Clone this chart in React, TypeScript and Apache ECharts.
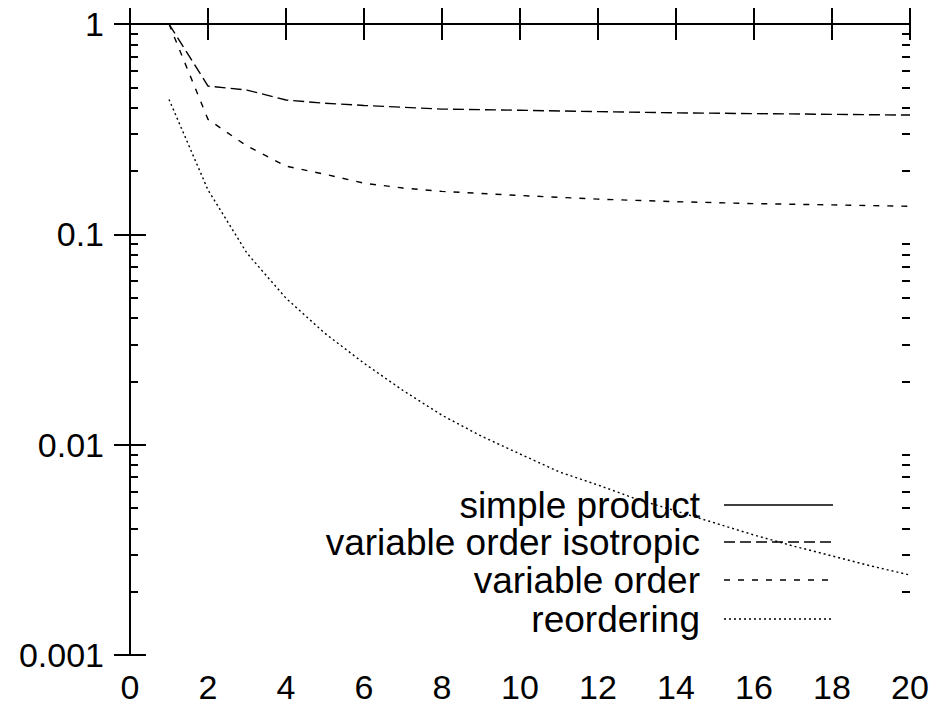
import React, { useEffect, useRef } from "react";
import * as echarts from "echarts";

const seriesNames = ["simple product", "variable order isotropic", "variable order", "reordering"];

const simpleX = [1, 20];
const simpleY = [1, 1];

const isoX = [1, 2, 3, 4, 5, 6, 7, 8, 10, 12, 14, 16, 18, 20];
const isoY = [1, 0.507, 0.485, 0.435, 0.42, 0.41, 0.402, 0.394, 0.389, 0.383, 0.378, 0.375, 0.372, 0.369];

const varX = [1, 2, 3, 4, 5, 6, 7, 8, 10, 12, 14, 16, 18, 20];
const varY = [1, 0.352, 0.263, 0.211, 0.193, 0.175, 0.166, 0.16, 0.153, 0.147, 0.143, 0.14, 0.138, 0.136];

const reoX = [1, 2, 3, 4, 5, 6, 7, 8, 9, 10, 11, 12, 13, 14, 15, 16, 17, 18, 19, 20];
const reoY = [0.438, 0.1625, 0.0813, 0.0497, 0.0338, 0.0244, 0.0181, 0.0138, 0.011, 0.00903, 0.00743, 0.00643, 0.0055, 0.00484, 0.00424, 0.00372, 0.0033, 0.00296, 0.00265, 0.0024];

const yMinorTicks = [0.002, 0.003, 0.004, 0.005, 0.006, 0.007, 0.008, 0.009,
  0.02, 0.03, 0.04, 0.05, 0.06, 0.07, 0.08, 0.09,
  0.2, 0.3, 0.4, 0.5, 0.6, 0.7, 0.8, 0.9];

const dashes: (number[] | "solid")[] = ["solid", [11, 5], [6, 8], [2, 3]];

const FONT = "Liberation Sans, Arial, sans-serif";

function zip(xs: number[], ys: number[]) {
  return xs.map((x, i) => [x, ys[i]]);
}

export default function App() {
  const ref = useRef<HTMLDivElement>(null);
  useEffect(() => {
    if (!ref.current) return;
    const chart = echarts.init(ref.current, undefined, { renderer: "svg" });
    const lineSeries = [
      [simpleX, simpleY],
      [isoX, isoY],
      [varX, varY],
      [reoX, reoY],
    ].map(([xs, ys], i) => ({
      type: "line",
      name: seriesNames[i],
      data: zip(xs as number[], ys as number[]),
      showSymbol: false,
      symbol: "none",
      lineStyle: { color: "#000", width: 1.4, type: dashes[i] as any },
      z: 3,
    }));

    const legendRows = [505, 542, 580, 619];
    const legendGraphics: any[] = [];
    seriesNames.forEach((n, i) => {
      legendGraphics.push({
        type: "text",
        right: 940 - 700,
        top: legendRows[i] - 18,
        style: { text: n, font: `37px ${FONT}`, lineHeight: 36, fill: "#000", textAlign: "right" },
      });
      legendGraphics.push({
        type: "line",
        shape: { x1: 724, y1: legendRows[i], x2: 833, y2: legendRows[i] },
        style: { stroke: "#000", lineWidth: 1.4, lineDash: dashes[i] === "solid" ? null : dashes[i] },
      });
    });

    const minorLogValues = yMinorTicks.map((v) => Math.log10(v));
    const minorAxis = (position: string) => ({
      type: "value", min: -3, max: 0, position,
      axisLine: { show: false, onZero: false },
      splitLine: { show: false },
      axisLabel: { show: false },
      axisTick: { show: true, inside: true, length: 8, customValues: minorLogValues, lineStyle: { color: "#000", width: 2 } },
    });

    const axisLine = { show: true, lineStyle: { color: "#000", width: 2 } };
    const option: any = {
      animation: false,
      backgroundColor: "#fff",
      grid: { left: 130, right: 30, top: 24, bottom: 56, containLabel: false },
      xAxis: [
        {
          type: "value", min: 0, max: 20, interval: 2, position: "bottom",
          axisLine, splitLine: { show: false },
          axisTick: { inside: true, length: 16, lineStyle: { color: "#000", width: 2 } },
          axisLabel: { color: "#000", fontSize: 34, fontFamily: FONT, margin: 15 },
        },
        {
          type: "value", min: 0, max: 20, interval: 2, position: "top",
          axisLine, splitLine: { show: false },
          axisTick: { inside: true, length: 16, lineStyle: { color: "#000", width: 2 } },
          axisLabel: { show: false },
        },
      ],
      yAxis: [
        {
          type: "log", logBase: 10, min: 0.001, max: 1, position: "left",
          axisLine, splitLine: { show: false },
          axisTick: { inside: true, length: 16, lineStyle: { color: "#000", width: 2 } },
          axisLabel: {
            color: "#000", fontSize: 34, fontFamily: FONT, margin: 26,
            formatter: (v: number) => String(+v.toPrecision(3)),
          },
        },
        {
          type: "log", logBase: 10, min: 0.001, max: 1, position: "right",
          axisLine, splitLine: { show: false },
          axisTick: { inside: true, length: 16, lineStyle: { color: "#000", width: 2 } },
          axisLabel: { show: false },
        },
        minorAxis("left"),
        minorAxis("right"),
      ],
      series: lineSeries,
      graphic: legendGraphics,
    };
    chart.setOption(option);
    return () => chart.dispose();
  }, []);
  return <div ref={ref} style={{ position: "fixed", left: 0, top: 0, width: 940, height: 711, background: "#fff" }} />;
}
